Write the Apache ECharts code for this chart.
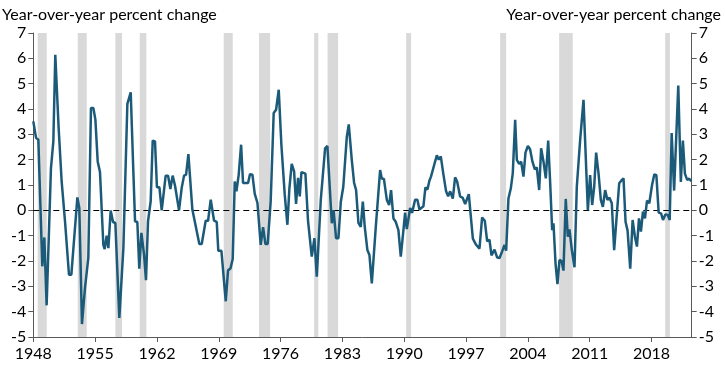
<!DOCTYPE html>
<html>
<head>
<meta charset="utf-8">
<script src="https://cdn.jsdelivr.net/npm/echarts@6/dist/echarts.min.js"></script>
<style>html,body{margin:0;padding:0;background:#fff}#c{width:725px;height:372px}</style>
</head>
<body>
<div id="c"></div>
<script>
// Decimal year positions (as placed on the chart's time axis) and year-over-year percent change
const years = [
1948.00,1948.31,1948.57,1949.02,1949.25,1949.51,1950.00,1950.27,1950.49,1950.87,
1951.21,1951.59,1952.04,1952.31,1952.99,1953.21,1953.51,1953.85,1954.23,1954.53,
1954.80,1955.03,1955.29,1955.55,1955.93,1956.08,1956.31,1956.50,1956.76,1957.03,
1957.29,1957.74,1958.20,1958.65,1959.03,1959.29,1959.52,1959.78,1960.00,1960.24,
1960.54,1960.76,1960.99,1961.29,1961.52,1961.78,1962.00,1962.28,1962.54,1962.99,
1963.26,1963.52,1963.78,1964.05,1964.50,1964.80,1965.07,1965.30,1965.56,1966.01,
1966.80,1967.07,1967.52,1967.79,1968.09,1968.47,1968.77,1968.95,1969.30,1969.79,
1970.05,1970.32,1970.58,1970.81,1971.00,1971.26,1971.53,1971.75,1972.32,1972.54,
1972.81,1973.07,1973.38,1973.75,1974.02,1974.28,1974.54,1974.88,1975.22,1975.49,
1975.79,1976.09,1976.47,1976.77,1977.00,1977.26,1977.53,1977.75,1977.98,1978.17,
1978.36,1978.58,1978.81,1979.11,1979.53,1979.83,1980.10,1980.55,1981.04,1981.30,
1981.80,1982.00,1982.28,1982.55,1982.82,1983.10,1983.50,1983.72,1984.06,1984.32,
1984.55,1984.81,1985.08,1985.31,1985.53,1985.83,1986.06,1986.33,1986.78,1987.27,
1987.46,1987.70,1988.03,1988.29,1988.51,1988.78,1989.03,1989.34,1989.61,1989.91,
1990.10,1990.29,1990.67,1990.89,1991.23,1991.49,1991.72,1992.17,1992.40,1992.63,
1992.85,1993.04,1993.35,1993.69,1993.91,1994.14,1994.44,1994.74,1994.97,1995.20,
1995.50,1995.76,1995.99,1996.33,1996.63,1996.90,1997.09,1997.31,1997.77,1998.14,
1998.52,1998.82,1999.12,1999.39,1999.65,1999.88,2000.22,2000.52,2000.79,2001.09,
2001.35,2001.54,2001.80,2002.07,2002.29,2002.56,2002.75,2003.01,2003.24,2003.50,
2003.73,2004.00,2004.25,2004.52,2004.79,2005.01,2005.28,2005.50,2005.77,2006.03,
2006.30,2006.52,2006.75,2006.90,2007.13,2007.35,2007.58,2007.81,2008.03,2008.29,
2008.52,2008.71,2008.98,2009.28,2009.54,2009.92,2010.30,2010.79,2011.05,2011.28,
2011.51,2011.73,2012.00,2012.26,2012.49,2012.75,2013.01,2013.24,2013.50,2013.77,
2014.08,2014.34,2014.57,2014.83,2015.06,2015.29,2015.59,2015.86,2016.12,2016.35,
2016.58,2016.80,2017.03,2017.26,2017.49,2017.75,2018.06,2018.32,2018.55,2018.81,
2019.08,2019.30,2019.57,2019.83,2020.06,2020.28,2020.56,2021.03,2021.32,2021.55,
2021.78,2022.04,2022.27,2022.50
];
const values = [
3.51,2.86,2.79,-2.21,-1.07,-3.75,1.67,2.72,6.14,3.25,
1.14,-0.43,-2.54,-2.54,0.51,0.09,-4.49,-3.07,-1.88,4.04,
4.04,3.58,1.93,1.51,-1.36,-1.53,-1.00,-1.49,-0.01,-0.46,
-0.50,-4.25,-1.49,4.20,4.66,1.93,-0.43,-0.46,-2.30,-0.89,
-1.75,-2.76,-0.43,0.36,2.75,2.72,0.91,0.91,0.00,1.37,
1.37,0.84,1.37,0.97,0.00,0.88,1.37,1.41,2.22,0.03,
-1.33,-1.33,-0.41,-0.41,0.42,-0.41,-0.46,-1.60,-1.60,-3.59,
-2.37,-2.30,-1.92,1.14,0.75,1.41,2.59,1.08,1.08,1.43,
1.41,0.66,0.29,-1.36,-0.66,-1.33,-1.33,0.36,3.84,3.97,
4.76,2.59,0.62,-0.57,0.88,1.83,1.54,0.25,1.28,0.55,
1.51,1.47,1.45,-0.43,-1.83,-1.10,-2.62,0.41,2.45,2.54,
-0.51,0.01,-1.10,-1.10,0.34,0.93,2.91,3.39,1.99,1.09,
0.80,-0.49,-0.65,0.34,-0.65,-1.57,-1.76,-2.88,-0.65,1.59,
1.26,1.24,0.41,0.21,0.80,-0.32,-0.45,-0.78,-1.83,-0.78,
-0.09,-0.74,0.09,-0.10,0.42,0.42,0.03,0.16,0.91,0.82,
1.17,1.34,1.74,2.17,2.00,2.13,1.41,0.75,0.55,0.75,
0.46,1.30,1.14,0.55,0.49,0.25,0.26,0.64,-1.12,-1.36,
-1.51,-0.28,-0.41,-1.22,-1.16,-1.78,-1.55,-1.86,-1.88,-1.62,
-1.37,-1.59,0.47,0.87,1.46,3.57,1.99,1.83,1.92,1.33,
2.28,2.54,2.41,1.92,1.62,1.70,0.80,2.45,1.92,1.26,
2.75,1.13,-0.78,-0.51,-2.09,-2.91,-1.96,-2.00,-2.38,0.45,
-1.04,-0.75,-1.57,-2.25,0.93,2.78,4.36,0.01,1.39,0.21,
0.93,2.28,1.46,0.41,0.14,0.80,0.41,0.50,0.28,-1.57,
-0.12,1.07,1.17,1.26,-0.45,-0.80,-2.30,-0.38,-1.04,-1.43,
-0.32,-0.84,-0.05,-0.32,0.38,0.28,1.00,1.42,1.39,-0.09,
-0.12,-0.38,-0.16,-0.18,-0.38,3.05,0.78,4.93,1.12,2.75,
1.45,1.20,1.25,1.15
];
// Recession periods (shaded), as placed on the chart's time axis
const recessionStart = [1948.50,1953.03,1957.29,1960.05,1969.56,1973.56,1979.80,1981.32,1990.22,2000.86,2007.54,2019.55];
const recessionEnd   = [1949.52,1954.05,1958.05,1960.80,1970.58,1974.81,1980.27,1982.51,1990.78,2001.54,2009.08,2020.08];
const yTicks = [-5,-4,-3,-2,-1,0,1,2,3,4,5,6,7];
const xTickYears = [1948,1955,1962,1969,1976,1983,1990,1997,2004,2011,2018];
const yTitle = 'Year-over-year percent change';

const BASE = 1948;
const XMAX = 74.55;
const font = 'Lato, "Open Sans", sans-serif';
const lineData = years.map((y, i) => [y - BASE, values[i]]);
const areas = recessionStart.map((s, i) => [{xAxis: s - BASE}, {xAxis: recessionEnd[i] - BASE}]);

const yAxisCommon = {
  type: 'value', min: yTicks[0], max: yTicks[yTicks.length - 1], interval: 1,
  axisLine: {show: true, lineStyle: {color: '#595959', width: 1}},
  axisTick: {show: true, length: 5, lineStyle: {color: '#595959'}},
  splitLine: {show: false},
  axisLabel: {color: '#000', fontSize: 16, fontFamily: font, margin: 7}
};

const chart = echarts.init(document.getElementById('c'), null, {renderer: 'canvas'});
chart.setOption({
  animation: false,
  backgroundColor: '#fff',
  title: [
    {text: yTitle, left: 2, top: 7, padding: 0, textStyle: {fontSize: 16, fontWeight: 'normal', color: '#000', fontFamily: font}},
    {text: yTitle, right: 4, top: 7, padding: 0, textStyle: {fontSize: 16, fontWeight: 'normal', color: '#000', fontFamily: font}}
  ],
  grid: {left: 33.3, right: 33.3, top: 33, bottom: 35, containLabel: false},
  xAxis: {
    type: 'value', min: 0, max: XMAX, interval: 7,
    axisLine: {show: true, onZero: false, lineStyle: {color: '#595959', width: 1}},
    axisTick: {show: true, length: 5, lineStyle: {color: '#595959'}},
    splitLine: {show: false},
    axisLabel: {
      color: '#000', fontSize: 16, fontFamily: font, margin: 9, showMaxLabel: false,
      formatter: v => xTickYears.includes(Math.round(v + BASE)) && Math.abs(v % 7) < 1e-6 ? String(Math.round(v + BASE)) : ''
    }
  },
  yAxis: [
    Object.assign({}, yAxisCommon, {position: 'left'}),
    Object.assign({}, yAxisCommon, {position: 'right'})
  ],
  series: [{
    type: 'line',
    data: lineData,
    symbol: 'none',
    lineStyle: {color: '#1c5a79', width: 2.5},
    z: 5,
    markArea: {silent: true, itemStyle: {color: '#d9d9d9'}, data: areas, z: 1},
    markLine: {
      silent: true, symbol: 'none', label: {show: false},
      lineStyle: {color: '#000', width: 1, type: [6, 4]},
      data: [{yAxis: 0}]
    }
  }]
});
</script>
</body>
</html>
